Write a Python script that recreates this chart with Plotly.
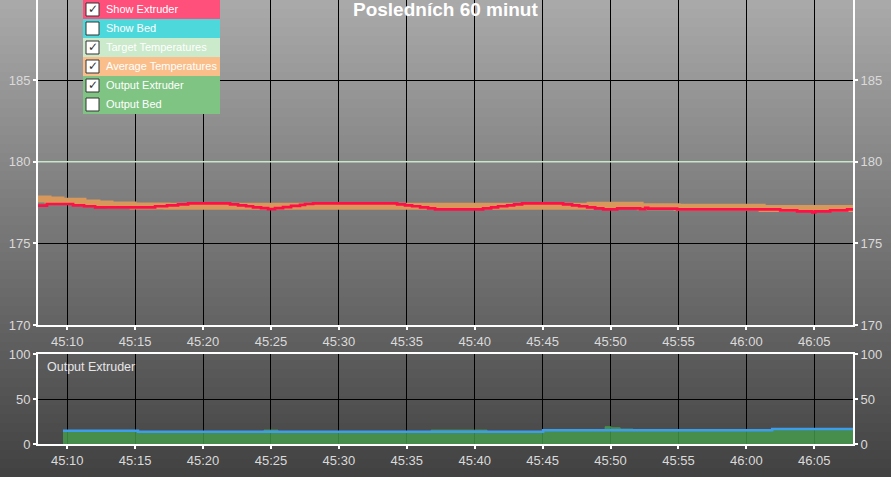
import pandas as pd
import plotly.graph_objects as go

# seconds after 45:00 where each step starts, and the value of that step
extruder_sec = [7.85, 8.51, 10.43, 11.24, 12.05, 16.47, 17.35, 18.16, 18.90, 21.99,
                22.58, 23.17, 23.68, 24.27, 24.79, 25.30, 25.89, 26.48, 27.14, 27.51,
                28.10, 34.29, 34.87, 35.39, 35.98, 36.57, 37.08, 40.62, 41.21, 41.72,
                42.39, 42.90, 43.49, 46.51, 47.17, 47.69, 48.28, 48.87, 49.46, 50.49,
                52.18, 52.55, 52.77, 54.90, 62.49, 63.74, 64.85, 65.07, 66.17, 67.42, 67.85]
extruder_temp = [177.31, 177.41, 177.33, 177.27, 177.20, 177.27, 177.33, 177.39, 177.45, 177.39,
                 177.33, 177.27, 177.20, 177.16, 177.10, 177.16, 177.22, 177.29, 177.35, 177.41,
                 177.45, 177.39, 177.33, 177.27, 177.20, 177.14, 177.08, 177.14, 177.20, 177.27,
                 177.33, 177.39, 177.45, 177.39, 177.33, 177.27, 177.20, 177.14, 177.08, 177.14,
                 177.10, 177.18, 177.12, 177.08, 177.02, 176.96, 176.90, 176.96, 177.02, 177.08, 177.08]

avg_sec = [7.85, 8.59, 9.54, 11.16, 12.19, 13.15, 14.85, 17.35, 48.50, 52.18, 54.90, 61.16, 67.85]
avg_temp = [177.71, 177.65, 177.57, 177.47, 177.41, 177.35, 177.29, 177.27, 177.33, 177.24,
            177.21, 177.14, 177.14]

target_sec = [7.85, 67.85]
target_temp = [180, 180]

output_sec = [9.69, 15.21, 45.04, 61.90, 67.85]
output_val = [14.8, 13.6, 15.2, 16.7, 16.7]

avg_output_sec = [9.69, 15.21, 24.49, 25.52, 36.79, 40.91, 45.04, 49.60, 50.04, 50.71, 51.66, 61.90, 67.85]
avg_output_val = [14.0, 13.0, 15.5, 13.0, 15.5, 13.0, 14.6, 19.2, 18.0, 16.7, 14.6, 16.2, 16.2]

x_range_sec = [7.85, 67.85]

checkbox_rows = ["Show Extruder", "Show Bed", "Target Temperatures",
                 "Average Temperatures", "Output Extruder", "Output Bed"]
checkbox_checked = [True, False, True, True, True, False]
checkbox_colors = ["#FF4F7B", "#4DD8DB", "#CBE9CB", "#F9BE8A", "#80C484", "#80C484"]

base = pd.Timestamp("2024-01-01 00:45:00")


def to_time(secs):
    return [base + pd.Timedelta(seconds=s) for s in secs]


# pixel -> paper helpers (plot area is 815 x 444 px, offset 38 px from the left)
def px(x):
    return (x - 38) / 815


def py(y):
    return (444 - y) / 444


tick_font = dict(family="Liberation Sans, Arial", size=13, color="#DADADA")
axis_common = dict(
    showline=True, linecolor="white", linewidth=2, automargin=False,
    ticks="outside", ticklen=3, tickwidth=2, tickcolor="white",
    tickfont=tick_font, gridcolor="black", gridwidth=1.3, zeroline=False,
)

fig = go.Figure()

fig.add_trace(go.Scatter(x=to_time(avg_sec), y=avg_temp, mode="lines", line_shape="hv",
                         line=dict(color="#D8985C", width=7), xaxis="x", yaxis="y"))
fig.add_trace(go.Scatter(x=to_time(extruder_sec), y=extruder_temp, mode="lines", line_shape="hv",
                         line=dict(color="#FF0F45", width=2.7), xaxis="x", yaxis="y"))
fig.add_trace(go.Scatter(x=to_time(target_sec), y=target_temp, mode="lines",
                         line=dict(color="#C8E6C9", width=1.5), xaxis="x", yaxis="y2"))

fig.add_trace(go.Scatter(x=to_time(avg_output_sec), y=avg_output_val, mode="lines", line_shape="hv",
                         fill="tozeroy", fillcolor="rgba(70,157,75,0.8)",
                         line=dict(color="rgba(70,157,75,0.8)", width=1), xaxis="x2", yaxis="y3"))
fig.add_trace(go.Scatter(x=to_time(output_sec), y=output_val, mode="lines", line_shape="hv",
                         line=dict(color="#3D9CEB", width=2.5), xaxis="x2", yaxis="y4"))

# background gradient, light grey at top to dark grey at bottom
shapes = []
step = 9
for top in range(0, 477, step):
    c = int(170 - 104 * (top + step / 2) / 477)
    shapes.append(dict(type="rect", xref="paper", yref="paper", layer="below",
                       x0=px(0), x1=px(891), y0=py(min(top + step + 0.5, 477)), y1=py(top),
                       fillcolor=f"rgb({c},{c},{c})", line=dict(width=0)))

# checkbox panel in the top-left corner
annotations = []
for i, (label, checked, color) in enumerate(zip(checkbox_rows, checkbox_checked, checkbox_colors)):
    top = 19 * i
    shapes.append(dict(type="rect", xref="paper", yref="paper",
                       x0=px(83), x1=px(220), y0=py(top + 19), y1=py(top),
                       fillcolor=color, line=dict(width=0)))
    shapes.append(dict(type="rect", xref="paper", yref="paper",
                       x0=px(86), x1=px(99), y0=py(top + 16), y1=py(top + 3),
                       fillcolor="white", line=dict(color="#333333", width=1)))
    if checked:
        annotations.append(dict(xref="paper", yref="paper", x=px(92.5), y=py(top + 9.5),
                                text="✓", showarrow=False, xanchor="center", yanchor="middle",
                                font=dict(family="DejaVu Sans", size=12, color="#333333")))
    annotations.append(dict(xref="paper", yref="paper", x=px(104), y=py(top + 9.5),
                            text=label, showarrow=False, xanchor="left", yanchor="middle",
                            font=dict(family="Liberation Sans, Arial", size=11, color="white")))

annotations.append(dict(xref="paper", yref="paper", x=0.5, y=py(10), text="<b>Posledních 60 minut</b>",
                        showarrow=False, xanchor="center", yanchor="middle",
                        font=dict(family="Liberation Sans, Arial", size=19, color="white")))
annotations.append(dict(xref="paper", yref="paper", x=px(45), y=py(367), text="Output Extruder",
                        showarrow=False, xanchor="left", yanchor="middle",
                        font=dict(family="Liberation Sans, Arial", size=12.5, color="#E6E6E6")))

x_rng = [to_time(x_range_sec)[0], to_time(x_range_sec)[1]]

fig.update_layout(
    width=891, height=477,
    margin=dict(l=38, r=38, t=0, b=33),
    paper_bgcolor="#777777", plot_bgcolor="rgba(0,0,0,0)",
    showlegend=False,
    shapes=shapes, annotations=annotations,
    xaxis=dict(domain=[0, 1], anchor="y", range=x_rng, dtick=5000, tickformat="%M:%S",
               showgrid=True, **axis_common),
    yaxis=dict(domain=[py(325), 1], anchor="x", range=[170, 189.9], dtick=5, side="left",
               showgrid=True, **axis_common),
    yaxis2=dict(overlaying="y", anchor="x", side="right", range=[170, 189.9], dtick=5,
                showgrid=False, **axis_common),
    xaxis2=dict(domain=[0, 1], anchor="y3", range=x_rng, dtick=5000, tickformat="%M:%S",
                showgrid=True, mirror=True, layer="below traces", **axis_common),
    yaxis3=dict(domain=[0, py(354)], anchor="x2", range=[0, 100], dtick=50, side="left",
                showgrid=True, **axis_common),
    yaxis4=dict(overlaying="y3", anchor="x2", side="right", range=[0, 100], dtick=50,
                showgrid=False, **axis_common),
)

fig.write_html("out.html", config={"displayModeBar": False},
               post_script="document.body.style.margin = '0';")
